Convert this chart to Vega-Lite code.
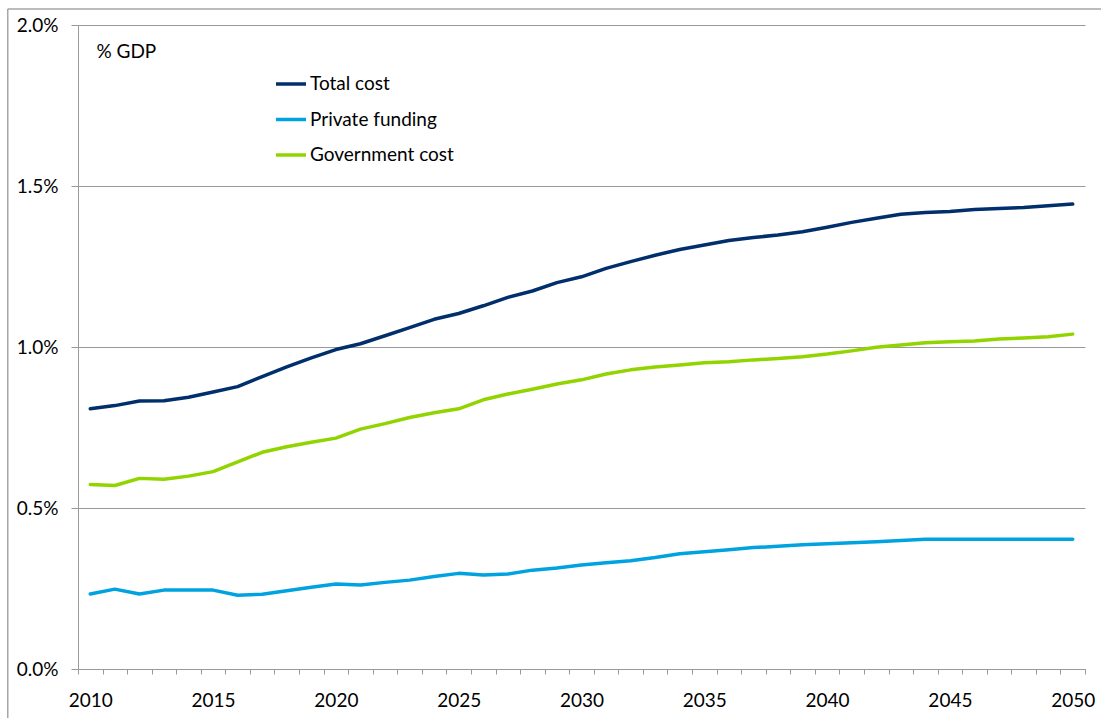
{
  "$schema": "https://vega.github.io/schema/vega-lite/v6.json",
  "width": 1007,
  "height": 644,
  "autosize": {"type": "none"},
  "padding": {"left": 78, "top": 25, "right": 16, "bottom": 49},
  "background": "white",
  "config": {
    "font": "Lato",
    "view": {"stroke": null},
    "axis": {"labelFont": "Lato", "labelFontSize": 19, "labelColor": "#000000", "domainColor": "#999999", "tickColor": "#999999", "gridColor": "#999999", "title": null}
  },
  "data": {"values": [
    {"year": 2010, "series": "Total cost", "value": 0.808},
    {"year": 2011, "series": "Total cost", "value": 0.818},
    {"year": 2012, "series": "Total cost", "value": 0.832},
    {"year": 2013, "series": "Total cost", "value": 0.833},
    {"year": 2014, "series": "Total cost", "value": 0.844},
    {"year": 2015, "series": "Total cost", "value": 0.86},
    {"year": 2016, "series": "Total cost", "value": 0.877},
    {"year": 2017, "series": "Total cost", "value": 0.908},
    {"year": 2018, "series": "Total cost", "value": 0.938},
    {"year": 2019, "series": "Total cost", "value": 0.966},
    {"year": 2020, "series": "Total cost", "value": 0.992},
    {"year": 2021, "series": "Total cost", "value": 1.01},
    {"year": 2022, "series": "Total cost", "value": 1.035},
    {"year": 2023, "series": "Total cost", "value": 1.06},
    {"year": 2024, "series": "Total cost", "value": 1.086},
    {"year": 2025, "series": "Total cost", "value": 1.104},
    {"year": 2026, "series": "Total cost", "value": 1.128},
    {"year": 2027, "series": "Total cost", "value": 1.154},
    {"year": 2028, "series": "Total cost", "value": 1.174},
    {"year": 2029, "series": "Total cost", "value": 1.2},
    {"year": 2030, "series": "Total cost", "value": 1.218},
    {"year": 2031, "series": "Total cost", "value": 1.244},
    {"year": 2032, "series": "Total cost", "value": 1.265},
    {"year": 2033, "series": "Total cost", "value": 1.285},
    {"year": 2034, "series": "Total cost", "value": 1.303},
    {"year": 2035, "series": "Total cost", "value": 1.317},
    {"year": 2036, "series": "Total cost", "value": 1.331},
    {"year": 2037, "series": "Total cost", "value": 1.34},
    {"year": 2038, "series": "Total cost", "value": 1.348},
    {"year": 2039, "series": "Total cost", "value": 1.358},
    {"year": 2040, "series": "Total cost", "value": 1.372},
    {"year": 2041, "series": "Total cost", "value": 1.387},
    {"year": 2042, "series": "Total cost", "value": 1.4},
    {"year": 2043, "series": "Total cost", "value": 1.412},
    {"year": 2044, "series": "Total cost", "value": 1.418},
    {"year": 2045, "series": "Total cost", "value": 1.421},
    {"year": 2046, "series": "Total cost", "value": 1.427},
    {"year": 2047, "series": "Total cost", "value": 1.43},
    {"year": 2048, "series": "Total cost", "value": 1.433},
    {"year": 2049, "series": "Total cost", "value": 1.439},
    {"year": 2050, "series": "Total cost", "value": 1.444},
    {"year": 2010, "series": "Private funding", "value": 0.233},
    {"year": 2011, "series": "Private funding", "value": 0.248},
    {"year": 2012, "series": "Private funding", "value": 0.233},
    {"year": 2013, "series": "Private funding", "value": 0.245},
    {"year": 2014, "series": "Private funding", "value": 0.245},
    {"year": 2015, "series": "Private funding", "value": 0.245},
    {"year": 2016, "series": "Private funding", "value": 0.229},
    {"year": 2017, "series": "Private funding", "value": 0.232},
    {"year": 2018, "series": "Private funding", "value": 0.243},
    {"year": 2019, "series": "Private funding", "value": 0.254},
    {"year": 2020, "series": "Private funding", "value": 0.264},
    {"year": 2021, "series": "Private funding", "value": 0.261},
    {"year": 2022, "series": "Private funding", "value": 0.269},
    {"year": 2023, "series": "Private funding", "value": 0.276},
    {"year": 2024, "series": "Private funding", "value": 0.287},
    {"year": 2025, "series": "Private funding", "value": 0.297},
    {"year": 2026, "series": "Private funding", "value": 0.292},
    {"year": 2027, "series": "Private funding", "value": 0.295},
    {"year": 2028, "series": "Private funding", "value": 0.307},
    {"year": 2029, "series": "Private funding", "value": 0.314},
    {"year": 2030, "series": "Private funding", "value": 0.323},
    {"year": 2031, "series": "Private funding", "value": 0.33},
    {"year": 2032, "series": "Private funding", "value": 0.336},
    {"year": 2033, "series": "Private funding", "value": 0.346},
    {"year": 2034, "series": "Private funding", "value": 0.358},
    {"year": 2035, "series": "Private funding", "value": 0.364},
    {"year": 2036, "series": "Private funding", "value": 0.37},
    {"year": 2037, "series": "Private funding", "value": 0.377},
    {"year": 2038, "series": "Private funding", "value": 0.381},
    {"year": 2039, "series": "Private funding", "value": 0.386},
    {"year": 2040, "series": "Private funding", "value": 0.389},
    {"year": 2041, "series": "Private funding", "value": 0.392},
    {"year": 2042, "series": "Private funding", "value": 0.395},
    {"year": 2043, "series": "Private funding", "value": 0.399},
    {"year": 2044, "series": "Private funding", "value": 0.403},
    {"year": 2045, "series": "Private funding", "value": 0.403},
    {"year": 2046, "series": "Private funding", "value": 0.403},
    {"year": 2047, "series": "Private funding", "value": 0.403},
    {"year": 2048, "series": "Private funding", "value": 0.403},
    {"year": 2049, "series": "Private funding", "value": 0.403},
    {"year": 2050, "series": "Private funding", "value": 0.403},
    {"year": 2010, "series": "Government cost", "value": 0.573},
    {"year": 2011, "series": "Government cost", "value": 0.57},
    {"year": 2012, "series": "Government cost", "value": 0.592},
    {"year": 2013, "series": "Government cost", "value": 0.589},
    {"year": 2014, "series": "Government cost", "value": 0.599},
    {"year": 2015, "series": "Government cost", "value": 0.613},
    {"year": 2016, "series": "Government cost", "value": 0.643},
    {"year": 2017, "series": "Government cost", "value": 0.673},
    {"year": 2018, "series": "Government cost", "value": 0.69},
    {"year": 2019, "series": "Government cost", "value": 0.704},
    {"year": 2020, "series": "Government cost", "value": 0.717},
    {"year": 2021, "series": "Government cost", "value": 0.745},
    {"year": 2022, "series": "Government cost", "value": 0.762},
    {"year": 2023, "series": "Government cost", "value": 0.781},
    {"year": 2024, "series": "Government cost", "value": 0.796},
    {"year": 2025, "series": "Government cost", "value": 0.808},
    {"year": 2026, "series": "Government cost", "value": 0.836},
    {"year": 2027, "series": "Government cost", "value": 0.854},
    {"year": 2028, "series": "Government cost", "value": 0.869},
    {"year": 2029, "series": "Government cost", "value": 0.885},
    {"year": 2030, "series": "Government cost", "value": 0.898},
    {"year": 2031, "series": "Government cost", "value": 0.916},
    {"year": 2032, "series": "Government cost", "value": 0.929},
    {"year": 2033, "series": "Government cost", "value": 0.938},
    {"year": 2034, "series": "Government cost", "value": 0.944},
    {"year": 2035, "series": "Government cost", "value": 0.951},
    {"year": 2036, "series": "Government cost", "value": 0.954},
    {"year": 2037, "series": "Government cost", "value": 0.96},
    {"year": 2038, "series": "Government cost", "value": 0.964},
    {"year": 2039, "series": "Government cost", "value": 0.97},
    {"year": 2040, "series": "Government cost", "value": 0.978},
    {"year": 2041, "series": "Government cost", "value": 0.988},
    {"year": 2042, "series": "Government cost", "value": 0.999},
    {"year": 2043, "series": "Government cost", "value": 1.006},
    {"year": 2044, "series": "Government cost", "value": 1.013},
    {"year": 2045, "series": "Government cost", "value": 1.016},
    {"year": 2046, "series": "Government cost", "value": 1.019},
    {"year": 2047, "series": "Government cost", "value": 1.025},
    {"year": 2048, "series": "Government cost", "value": 1.028},
    {"year": 2049, "series": "Government cost", "value": 1.032},
    {"year": 2050, "series": "Government cost", "value": 1.04}
  ]},
  "layer": [
    {
      "mark": {"type": "line", "strokeWidth": 3.5, "strokeJoin": "round", "strokeCap": "round"},
      "encoding": {
        "x": {"field": "year", "type": "quantitative",
          "scale": {"domain": [2009.5, 2050.5], "nice": false, "zero": false},
          "axis": {"orient": "bottom", "values": [2010, 2015, 2020, 2025, 2030, 2035, 2040, 2045, 2050], "format": "d", "ticks": false, "tickSize": 0, "grid": false, "domain": true, "labelPadding": 22, "labelFlush": false, "labelOverlap": false}},
        "y": {"field": "value", "type": "quantitative",
          "scale": {"domain": [0, 2], "nice": false, "zero": true},
          "axis": {"values": [0, 0.5, 1, 1.5, 2], "labelExpr": "format(datum.value, '.1f') + '%'", "grid": true, "tickSize": 7, "labelPadding": 13, "domain": true}},
        "color": {"field": "series", "type": "nominal",
          "scale": {"domain": ["Total cost", "Private funding", "Government cost"], "range": ["#002F6C", "#00A3E0", "#92D400"]},
          "legend": {"orient": "none", "legendX": 196, "legendY": 42, "title": null, "symbolType": "stroke", "symbolSize": 900, "symbolStrokeWidth": 3.5, "labelFontSize": 19, "labelFont": "Lato", "labelColor": "#000000", "labelOffset": 2, "rowPadding": 8.5, "labelLimit": 400}}
      }
    },
    {
      "data": {"values": [{"label": "% GDP"}]},
      "mark": {"type": "text", "align": "left", "baseline": "middle", "fontSize": 19, "font": "Lato", "fontWeight": "normal", "fill": "#000000"},
      "encoding": {
        "text": {"field": "label"},
        "x": {"datum": 2010.25, "type": "quantitative",
          "axis": {"orient": "bottom", "values": [2009.5, 2010.5, 2011.5, 2012.5, 2013.5, 2014.5, 2015.5, 2016.5, 2017.5, 2018.5, 2019.5, 2020.5, 2021.5, 2022.5, 2023.5, 2024.5, 2025.5, 2026.5, 2027.5, 2028.5, 2029.5, 2030.5, 2031.5, 2032.5, 2033.5, 2034.5, 2035.5, 2036.5, 2037.5, 2038.5, 2039.5, 2040.5, 2041.5, 2042.5, 2043.5, 2044.5, 2045.5, 2046.5, 2047.5, 2048.5, 2049.5, 2050.5], "labels": false, "ticks": true, "tickSize": 5, "grid": false, "domain": false}},
        "y": {"datum": 1.915, "type": "quantitative", "axis": null}
      }
    },
    {
      "data": {"values": [{"frame": "chart border"}]},
      "mark": {"type": "rule", "color": "#A6A6A6", "strokeWidth": 1.5, "clip": false},
      "encoding": {
        "x": {"datum": 2006.64, "type": "quantitative", "axis": null},
        "y": {"datum": -0.2, "type": "quantitative", "axis": null},
        "y2": {"datum": 2.0497}
      }
    },
    {
      "data": {"values": [{"frame": "chart border"}]},
      "mark": {"type": "rule", "color": "#A6A6A6", "strokeWidth": 1.5, "clip": false},
      "encoding": {
        "x": {"datum": 2006.64, "type": "quantitative", "axis": null},
        "x2": {"datum": 2052.5},
        "y": {"datum": 2.0497, "type": "quantitative", "axis": null}
      }
    }
  ],
  "resolve": {"axis": {"x": "independent", "y": "independent"}}
}
